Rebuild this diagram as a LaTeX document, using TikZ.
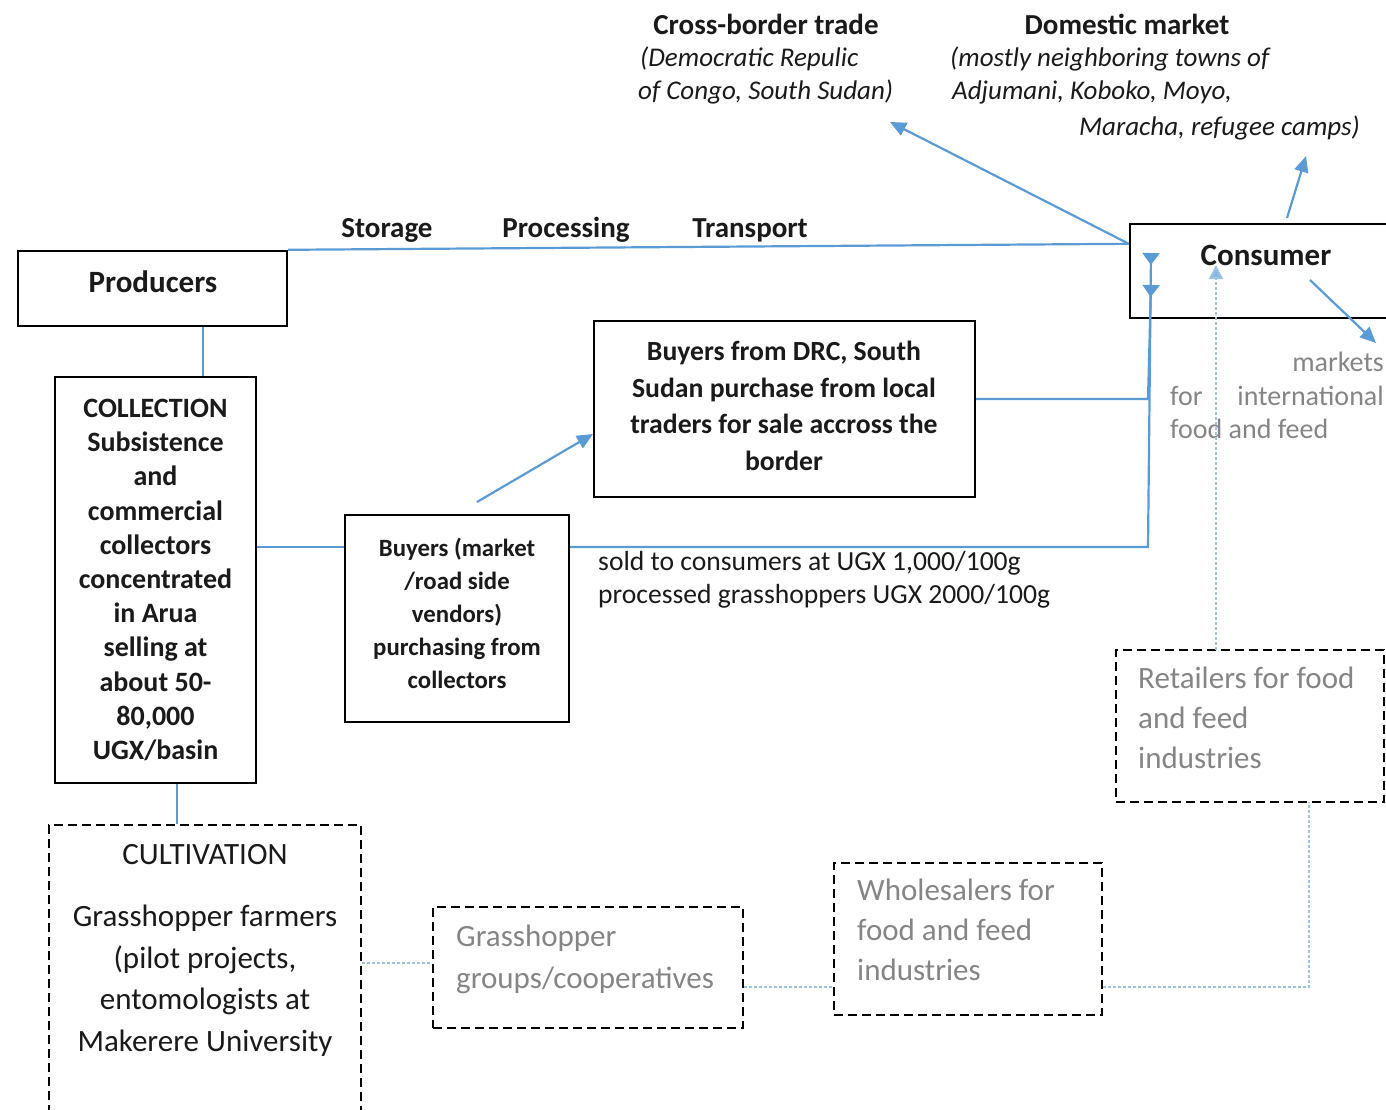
\documentclass[tikz,border=0pt]{standalone}
\usepackage{fontspec}
\setmainfont{Carlito}
\usetikzlibrary{arrows.meta}
\definecolor{flow}{HTML}{5B9BD5}
\definecolor{flowlight}{HTML}{9DC3E6}
\definecolor{note}{HTML}{858585}
\definecolor{ink}{HTML}{1A1A1A}

\tikzset{
  box/.style={draw=black, line width=2.4pt, inner sep=0pt},
  dbox/.style={draw=black, line width=2.4pt, inner sep=0pt, dash pattern=on 9pt off 5pt},
  link/.style={draw=flow, line width=2.2pt},
  arr/.style={link, -{Triangle[length=16pt,width=14pt]}},
  rarr/.style={link, -{Triangle[reversed,length=12pt,width=17pt]}},
  dlink/.style={draw=flowlight, line width=2pt, dash pattern=on 3pt off 2pt},
  darr/.style={dlink, -{Triangle[length=14pt,width=14pt,fill=flowlight!70!flow]}},
  lbl/.style={inner sep=0pt, text=ink},
  grey/.style={inner sep=0pt, text=note},
}

\begin{document}
\begin{tikzpicture}[x=1pt,y=-1pt]
\useasboundingbox (0,0) rectangle (1386,1110);

% ---- boxes ----
\node[box, minimum width=269pt, minimum height=75pt] (prod) at (152.5,288.5) {};
\node[box, minimum width=280pt, minimum height=94pt] (cons) at (1270,271) {};
\node[box, minimum width=201pt, minimum height=406pt] (coll) at (155.5,580) {};
\node[box, minimum width=224pt, minimum height=207pt] (buy) at (457,618.5) {};
\node[box, minimum width=381pt, minimum height=176pt] (drc) at (784.5,409) {};
\node[dbox, minimum width=312pt, minimum height=300pt] (cult) at (205,975) {};
\node[dbox, minimum width=310pt, minimum height=121pt] (grp) at (588,967.5) {};
\node[dbox, minimum width=268pt, minimum height=152pt] (whol) at (968,939) {};
\node[dbox, minimum width=268pt, minimum height=152pt] (ret) at (1250,726) {};

% ---- texts inside boxes ----
\node[lbl, anchor=base, font=\fontsize{31}{36}\selectfont\bfseries] (prodt) at (153,292) {Producers};
\node[lbl, anchor=base, font=\fontsize{31}{36}\selectfont\bfseries] (const) at (1266,265) {Consumer};
\node[lbl, align=center, font=\fontsize{28}{34.2}\selectfont\bfseries] (collt) at (155.5,580)
  {COLLECTION\\Subsistence\\and\\commercial\\collectors\\concentrated\\in Arua\\selling at\\about 50-\\80,000\\UGX/basin};
\node[lbl, align=center, font=\fontsize{24.8}{33}\selectfont\bfseries] (buyt) at (457,613)
  {Buyers (market\\/road side\\vendors)\\purchasing from\\collectors};
\node[lbl, align=center, font=\fontsize{27.7}{36.7}\selectfont\bfseries] (drct) at (784,406)
  {Buyers from DRC, South\\Sudan purchase from local\\traders for sale accross the\\border};
\node[lbl, anchor=north, align=center, font=\fontsize{31}{41.5}\selectfont] (cultt) at (205,844)
  {CULTIVATION\\[21pt]Grasshopper farmers\\(pilot projects,\\entomologists at\\Makerere University};
\node[grey, anchor=north west, align=left, font=\fontsize{31}{42}\selectfont] (grpt) at (456,925)
  {Grasshopper\\groups/cooperatives};
\node[grey, anchor=north west, align=left, font=\fontsize{31}{40}\selectfont] (wholt) at (857,879)
  {Wholesalers for\\food and feed\\industries};
\node[grey, anchor=north west, align=left, font=\fontsize{31}{40}\selectfont] (rett) at (1138,667)
  {Retailers for food\\and feed\\industries};

% ---- free labels ----
\node[lbl, anchor=base, font=\fontsize{29}{34}\selectfont\bfseries] (stor) at (387,237) {Storage};
\node[lbl, anchor=base, font=\fontsize{29}{34}\selectfont\bfseries] (proc) at (566,237) {Processing};
\node[lbl, anchor=base, font=\fontsize{29}{34}\selectfont\bfseries] (trans) at (750,237) {Transport};

\node[lbl, anchor=base, font=\fontsize{29}{34}\selectfont\bfseries] (xbt) at (766,35) {Cross-border trade};
\node[lbl, anchor=base west, font=\fontsize{27}{32}\selectfont\itshape] (xb1) at (640,67) {(Democratic Repulic};
\node[lbl, anchor=base west, font=\fontsize{27}{32}\selectfont\itshape] (xb2) at (638,100) {of Congo, South Sudan)};

\node[lbl, anchor=base, font=\fontsize{29}{34}\selectfont\bfseries] (dmt) at (1127,35) {Domestic market};
\node[lbl, anchor=base west, font=\fontsize{27}{32}\selectfont\itshape] (dm1) at (950,67) {(mostly neighboring towns of};
\node[lbl, anchor=base west, font=\fontsize{27}{32}\selectfont\itshape] (dm2) at (952,100) {Adjumani, Koboko, Moyo,};
\node[lbl, anchor=base east, font=\fontsize{27}{32}\selectfont\itshape] (dm3) at (1360,136) {Maracha, refugee camps)};

\node[grey, anchor=base east, font=\fontsize{28}{32}\selectfont] (mk) at (1384,371) {markets};
\node[grey, anchor=base west, font=\fontsize{28}{32}\selectfont] (for) at (1170,405) {for};
\node[grey, anchor=base east, font=\fontsize{28}{32}\selectfont] (intl) at (1384,405) {international};
\node[grey, anchor=base west, font=\fontsize{28}{32}\selectfont] (ff) at (1170,438) {food and feed};

\node[lbl, anchor=north west, align=left, font=\fontsize{27.6}{33}\selectfont] (price) at (598,551)
  {sold to consumers at UGX 1,000/100g\\processed grasshoppers UGX 2000/100g};

% ---- connector end points ----
\coordinate (cwin) at ([yshift=-21pt]cons.north west);
\coordinate (xbtip) at (890,122);
\coordinate (dmfoot) at (1287,218);
\coordinate (dmtip) at (1306,156);
\coordinate (infoot) at (1310,280);
\coordinate (intip) at (1376,343);
\coordinate (joinA) at (1148,399);
\coordinate (joinB) at (1148,547);
\coordinate (tipA) at (1151,285);
\coordinate (tipB) at (1151,253);
\coordinate (buyfoot) at (477,502);
\coordinate (drctip) at (593,434);
\coordinate (retup) at (1216,650);
\coordinate (constip) at (1216,265);
\coordinate (retfoot) at (1309,802);
\coordinate (wcorner) at (1309,987);

% ---- solid flows ----
\draw[link] (prod.north east) -- (cwin);
\draw[arr] (cwin) -- (xbtip);
\draw[arr] (dmfoot) -- (dmtip);
\draw[arr] (infoot) -- (intip);
\draw[link] (prod.south -| 203,0) -- (coll.north -| 203,0);
\draw[link] (coll.south -| 177,0) -- (cult.north -| 177,0);
\draw[link] (coll.east |- 0,547) -- (buy.west |- 0,547);
\draw[arr] (buyfoot) -- (drctip);
\draw[rarr] (drc.east |- joinA) -- (joinA) -- (tipA);
\draw[rarr] (buy.east |- joinB) -- (joinB) -- (tipB);

% ---- dotted flows ----
\draw[darr] (retup) -- (constip);
\draw[dlink] (cult.east |- 0,963) -- (grp.west |- 0,963);
\draw[dlink] (grp.east |- 0,987) -- (whol.west |- 0,987);
\draw[dlink] (whol.east |- wcorner) -- (wcorner) -- (retfoot);
\end{tikzpicture}
\end{document}
